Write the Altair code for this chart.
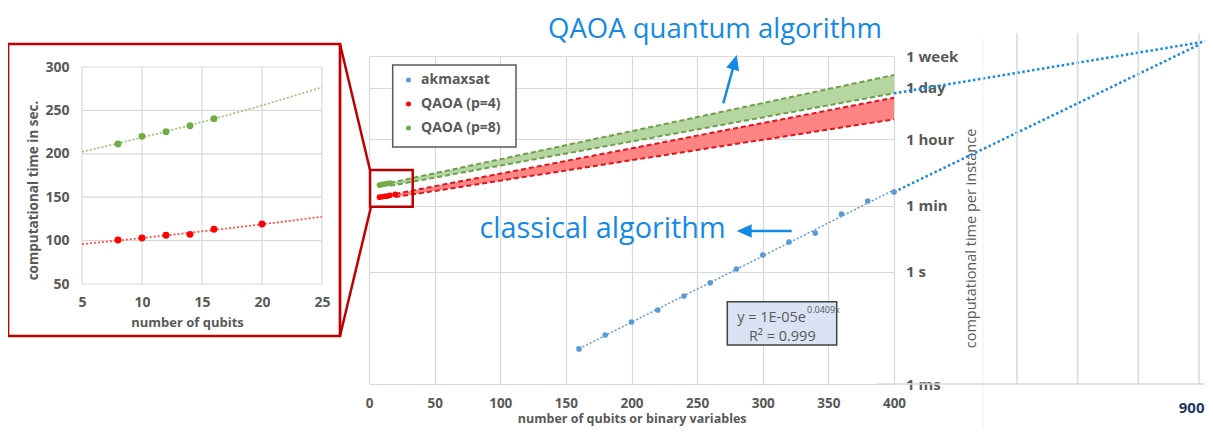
import altair as alt
import pandas as pd

# ---------------- data ----------------
series_names = ["akmaxsat", "QAOA (p=4)", "QAOA (p=8)"]
series_colors = ["#5b9bd5", "#ff0000", "#70ad47"]

ak_n = [160, 180, 200, 220, 240, 260, 280, 300, 320, 340, 360, 380, 400]
ak_t = [0.0087, 0.0205, 0.0457, 0.096, 0.227, 0.51, 1.2, 2.84, 6.34, 11.0, 35.6, 79.4, 138.0]

p4_n = [8, 10, 12, 14, 16, 20]
p4_t = [100.7, 103.0, 106.1, 107.2, 113.0, 119.1]
p8_n = [8, 10, 12, 14, 16]
p8_t = [211.3, 220.1, 225.5, 232.4, 240.5]

band_p4_n = [20, 400]
band_p4_lo = [101, 12200]
band_p4_hi = [123, 46200]
band_p8_n = [16, 400]
band_p8_lo = [202, 60700]
band_p8_hi = [243, 187600]

extra_ak_n = [400, 632]
extra_ak_t = [138.0, 1.19e6]
extra_q_n = [400, 644]
extra_q_t = [60700, 1.62e6]

zoom_n = [0.8, 33.3]
zoom_t = [55.8, 537]

time_ticks = [0.001, 1, 60, 3600, 86400, 604800]
time_labels = ["1 ms", "1 s", "1 min", "1 hour", "1 day", "1 week"]
main_n_ticks = [0, 50, 100, 150, 200, 250, 300, 350, 400]
inset_n_ticks = [5, 10, 15, 20, 25]
inset_t_ticks = [50, 100, 150, 200, 250, 300]
right_grid = [750, 800, 850, 900]
right_labels = [900]

# ---------------- styles ----------------
FONT = "Open Sans"
GRAY = "#595959"
GRID = "#d9d9d9"
BLUE = "#148ae6"
DARKRED = "#c00000"
W, H = 525, 328
ARROW = "M0,-1L0.9,1L-0.9,1Z"

# ---------------- main chart ----------------
x_main = alt.Scale(domain=[main_n_ticks[0], main_n_ticks[-1]], nice=False, zero=False)
y_main = alt.Scale(type="log", domain=[time_ticks[0], time_ticks[-1]], nice=False)

label_expr = "".join(f"datum.value == {v} ? '{l}' : " for v, l in zip(time_ticks, time_labels)) + "''"

ax_mx = alt.Axis(orient="bottom", values=main_n_ticks, grid=True, gridColor=GRID, gridWidth=1.2,
                 domain=False, ticks=False, labelFlush=False, labelOverlap=False, labelPadding=12,
                 labelFontSize=13.5, labelFontWeight="bold", labelColor=GRAY,
                 title="number of qubits or binary variables", titleFontSize=12.5, titleFontWeight="bold",
                 titleColor=GRAY, titleX=262.7, titleY=34, titleAlign="center", titleBaseline="middle")
ax_my = alt.Axis(orient="right", values=time_ticks, labelExpr=label_expr, grid=True, gridColor=GRID,
                 gridWidth=1.2, domain=False, ticks=False, labelPadding=11.5, labelFontSize=15,
                 labelFontWeight="bold", labelColor=GRAY, labelOverlap=False,
                 title="computational time per instance", titleFontSize=14.5, titleFontWeight="normal",
                 titleColor=GRAY, titleAngle=270, titleX=77, titleY=182, titleAlign="center",
                 titleBaseline="middle")

def XM(f):
    return alt.X(f, scale=x_main, axis=ax_mx)

def YM(f):
    return alt.Y(f, scale=y_main, axis=ax_my)

df_b4 = pd.DataFrame({"n": band_p4_n, "lo": band_p4_lo, "hi": band_p4_hi})
df_b8 = pd.DataFrame({"n": band_p8_n, "lo": band_p8_lo, "hi": band_p8_hi})

band8 = alt.Chart(df_b8).mark_area(color="#b5d6a0", opacity=1).encode(
    x=XM("n:Q"), y=YM("hi:Q"), y2="lo:Q")
band4 = alt.Chart(df_b4).mark_area(color="#ff8585", opacity=1).encode(
    x=XM("n:Q"), y=YM("hi:Q"), y2="lo:Q")

def dashed(df, col, color):
    return alt.Chart(df).mark_line(color=color, strokeDash=[5, 3], strokeWidth=2).encode(
        x=XM("n:Q"), y=YM(f"{col}:Q"))

d8h = dashed(df_b8, "hi", "#6e9f4c")
d8l = dashed(df_b8, "lo", "#6e9f4c")
d4h = dashed(df_b4, "hi", "#e3141c")
d4l = dashed(df_b4, "lo", "#e3141c")

df_ak = pd.DataFrame({"n": ak_n, "t": ak_t, "series": series_names[0]})
df_p4 = pd.DataFrame({"n": p4_n, "t": p4_t, "series": series_names[1]})
df_p8 = pd.DataFrame({"n": p8_n, "t": p8_t, "series": series_names[2]})
df_pts = pd.concat([df_ak, df_p4, df_p8], ignore_index=True)

# exponential trend line (least squares in log space, like a spreadsheet trendline)
ak_trend = alt.Chart(df_ak).transform_calculate(lt="log(datum.t)").transform_regression(
    "n", "lt").transform_calculate(t="exp(datum.lt)").mark_line(
    color="#5b9bd5", strokeDash=[2, 2], strokeWidth=1.5).encode(x=XM("n:Q"), y=YM("t:Q"))

df_ext = pd.DataFrame({"n": extra_ak_n + extra_q_n, "t": extra_ak_t + extra_q_t,
                       "g": ["a", "a", "q", "q"]})
ext = alt.Chart(df_ext).mark_line(color=BLUE, strokeDash=[2.5, 2.5], strokeWidth=2.5).encode(
    x=XM("n:Q"), y=YM("t:Q"), detail="g:N")

leg = alt.Legend(title=None, orient="none", legendX=32.5, legendY=17, padding=0, symbolType="circle",
                 symbolSize=25, symbolStrokeWidth=0, labelFont=FONT, labelFontSize=14,
                 labelFontWeight="bold", labelColor=GRAY, labelOffset=5.5, rowPadding=10)

pts = alt.Chart(df_pts).mark_circle(size=32, opacity=1).encode(
    x=XM("n:Q"), y=YM("t:Q"),
    color=alt.Color("series:N", scale=alt.Scale(domain=series_names, range=series_colors), legend=leg))

df_zoom = pd.DataFrame({"n0": [zoom_n[0]], "n1": [zoom_n[1]], "t0": [zoom_t[0]], "t1": [zoom_t[1]]})
zoombox = alt.Chart(df_zoom).mark_rect(fillOpacity=0, stroke=DARKRED, strokeWidth=2.5).encode(
    x=XM("n0:Q"), x2="n1:Q", y=YM("t0:Q"), y2="t1:Q")

main = alt.layer(band8, band4, d8h, d8l, d4h, d4l, ak_trend, ext, pts, zoombox)

# ---------------- inset chart ----------------
x_in = alt.Scale(domain=[inset_n_ticks[0], inset_n_ticks[-1]], range=[-287, -47], nice=False, zero=False)
y_in = alt.Scale(domain=[inset_t_ticks[0], inset_t_ticks[-1]], range=[228, 11], nice=False, zero=False)

ax_ix = alt.Axis(orient="bottom", offset=-100, values=inset_n_ticks, grid=False, domain=False,
                 ticks=False, labelFlush=False, labelPadding=11, labelFontSize=14,
                 labelFontWeight="bold", labelColor=GRAY, title="number of qubits", titleFontSize=13,
                 titleFontWeight="bold", titleColor=GRAY, titleX=-182, titleY=38, titleAlign="center",
                 titleBaseline="middle")
ax_iy = alt.Axis(orient="left", offset=287, values=inset_t_ticks, grid=False, domain=False,
                 ticks=False, labelPadding=13, labelFontSize=14, labelFontWeight="bold",
                 labelColor=GRAY, title="computational time in sec.", titleFontSize=13.5,
                 titleFontWeight="bold", titleColor=GRAY, titleAngle=270, titleX=-49, titleY=134,
                 titleAlign="center", titleBaseline="middle")

def XI(f):
    return alt.X(f, scale=x_in, axis=ax_ix)

def YI(f):
    return alt.Y(f, scale=y_in, axis=ax_iy)

df_iv = pd.DataFrame({"v": inset_n_ticks, "lo": inset_t_ticks[0], "hi": inset_t_ticks[-1]})
df_ih = pd.DataFrame({"v": inset_t_ticks, "lo": inset_n_ticks[0], "hi": inset_n_ticks[-1]})

ivgrid = alt.Chart(df_iv).mark_rule(color=GRID, strokeWidth=1.2).encode(
    x=XI("v:Q"), y=YI("lo:Q"), y2="hi:Q")
ihgrid = alt.Chart(df_ih).mark_rule(color=GRID, strokeWidth=1.2).encode(
    y=YI("v:Q"), x=XI("lo:Q"), x2="hi:Q")

def inset_trend(df, color):
    return alt.Chart(df).transform_regression(
        "n", "t", method="exp", extent=[inset_n_ticks[0], inset_n_ticks[-1]]).mark_line(
        color=color, strokeDash=[2, 2], strokeWidth=1.8).encode(x=XI("n:Q"), y=YI("t:Q"))

def inset_pts(df, color):
    return alt.Chart(df).mark_circle(size=48, opacity=1, color=color).encode(
        x=XI("n:Q"), y=YI("t:Q"))

inset = alt.layer(ivgrid, ihgrid,
                  inset_trend(df_p8, "#9cc77c"), inset_trend(df_p4, "#ff5050"),
                  inset_pts(df_p8, "#70ad47"), inset_pts(df_p4, "#ff0000"))

# ---------------- right fragment ----------------
x_r = alt.Scale(domain=[700, 900], range=[587.25, 830], nice=False, zero=False)
ax_r = alt.Axis(orient="bottom", values=right_labels, grid=False, domain=False, ticks=False,
                labelFlush=False, labelPadding=16, labelFontSize=15, labelFontWeight="bold",
                labelColor="#1f3864", labelAlign="right", labelOffset=5, title=None)
dummy = pd.DataFrame({"k": [0]})
rgrid = alt.Chart(pd.DataFrame({"v": right_grid})).mark_rule(color=GRID, strokeWidth=1.5).encode(
    x=alt.X("v:Q", scale=x_r, axis=ax_r), y=alt.value(-23), y2=alt.value(H))
rbase = alt.Chart(dummy).mark_rule(color=GRID, strokeWidth=1.5).encode(
    x=alt.value(508), x2=alt.value(844), y=alt.value(H))
rfaint = alt.Chart(dummy).mark_rule(color="#f0f0f0", strokeWidth=1).encode(
    x=alt.value(614), y=alt.value(-18), y2=alt.value(372))
right = alt.layer(rgrid, rfaint, rbase)

# ---------------- annotations ----------------
def txt(s, x, y, size, color, align="center", weight="normal"):
    return alt.Chart(dummy).mark_text(text=s, align=align, baseline="alphabetic", fontSize=size,
                                      color=color, font=FONT, fontWeight=weight).encode(
        x=alt.value(x), y=alt.value(y))

def seg(x1, y1, x2, y2, color, w):
    return alt.Chart(dummy).mark_rule(color=color, strokeWidth=w).encode(
        x=alt.value(x1), y=alt.value(y1), x2=alt.value(x2), y2=alt.value(y2))

def head(x, y, angle):
    return alt.Chart(dummy).mark_point(shape=ARROW, size=225, filled=True, color=BLUE, opacity=1,
                                       angle=angle).encode(x=alt.value(x), y=alt.value(y))

def box(x1, x2, y1, y2, fill, stroke, w, fo=1):
    return alt.Chart(dummy).mark_rect(fill=fill, fillOpacity=fo, stroke=stroke, strokeWidth=w).encode(
        x=alt.value(x1), x2=alt.value(x2), y=alt.value(y1), y2=alt.value(y2))

decor = alt.layer(
    box(-361, -29, -12, 280, "white", DARKRED, 2.7, 0),
    seg(-29, -12, 1, 114, DARKRED, 2.5),
    seg(-29, 280, 2, 150.7, DARKRED, 2.5),
    box(23.7, 147, 9, 91, "white", GRAY, 1.5),
    txt("QAOA quantum algorithm", 346, -18.5, 27.5, BLUE),
    txt("classical algorithm", 233.5, 182.3, 28.8, BLUE),
    seg(354.3, 47.3, 365.7, 6.2, BLUE, 2.5),
    head(365.7, 6.2, 15.5),
    seg(422.7, 175, 375.2, 175, BLUE, 2.5),
    head(375.2, 175, 270),
    box(358.3, 467.7, 245.7, 289, "#dae3f3", "#404040", 1.5),
    txt("y = 1E-05e", 437, 266.3, 14.5, GRAY, align="right"),
    txt("0.0409x", 438, 256.8, 9, GRAY, align="left"),
    txt("R\u00b2 = 0.999", 413.3, 285.3, 14.5, GRAY),
)

chart = alt.layer(main, inset, right, decor).resolve_scale(
    x="independent", y="independent").properties(
    width=W, height=H,
    padding={"left": 361, "top": 48, "right": 311, "bottom": 44},
    autosize=alt.AutoSizeParams(type="none"),
).configure(font=FONT).configure_view(stroke=None)

chart.save("out.html", embed_options={"renderer": "svg", "actions": False})
